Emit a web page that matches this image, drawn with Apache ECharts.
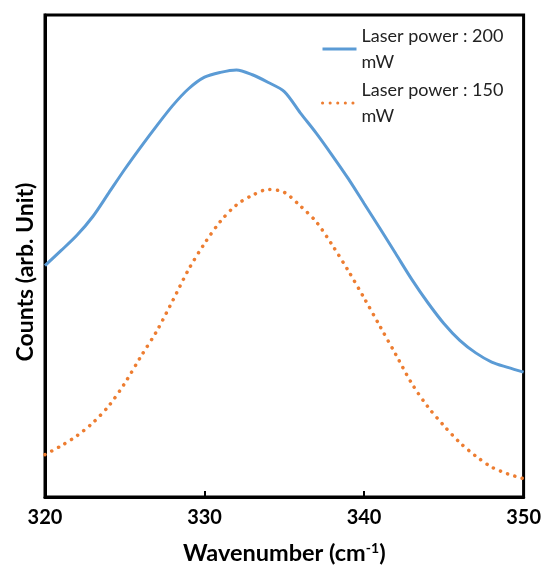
<!DOCTYPE html>
<html>
<head>
<meta charset="utf-8">
<script src="https://cdn.jsdelivr.net/npm/echarts@6/dist/echarts.min.js"></script>
<style>
  html, body { margin: 0; padding: 0; background: #fff; }
  #chart { width: 544px; height: 570px; }
</style>
</head>
<body>
<div id="chart"></div>
<script>
// ---- Data ----
const wavenumbers = [320,321,322,323,324,325,326,327,328,329,330,331,332,333,334,335,336,337,338,339,340,341,342,343,344,345,346,347,348,349,350];
const power200 = [48.0,51.1,54.3,58.2,63.1,68.0,72.6,77.0,81.2,84.7,87.1,88.1,88.6,87.6,86.0,84.1,79.7,75.5,70.9,66.1,60.9,55.7,50.4,45.1,40.3,36.0,32.5,29.9,28.0,26.9,25.9];
const power150 = [8.8,10.6,12.7,15.4,18.9,23.6,29.1,34.4,40.7,47.2,52.6,57.2,60.6,62.6,63.8,63.2,60.4,57.1,52.3,47.0,41.3,35.4,29.5,23.5,18.7,14.8,11.3,8.5,6.2,4.8,3.8];
const seriesNames = ['Laser power : 200\nmW', 'Laser power : 150\nmW'];
const xTicks = [320, 330, 340, 350];

const pairs = (xs, ys) => xs.map((x, i) => [x, ys[i]]);

const chart = echarts.init(document.getElementById('chart'), null, { renderer: 'canvas' });
const FONT = 'Lato';
chart.setOption({
  animation: false,
  backgroundColor: '#fff',
  grid: {
    left: 45, right: 19, top: 15, bottom: 68,
    show: true, borderColor: '#000', borderWidth: 3, backgroundColor: 'transparent'
  },
  legend: {
    left: 321, top: 27, orient: 'vertical', padding: 0,
    itemWidth: 34, itemHeight: 26, itemGap: 10,
    data: seriesNames,
    itemStyle: { opacity: 0 },
    lineStyle: { width: 3 },
    textStyle: { fontFamily: FONT, fontSize: 18, color: '#222', lineHeight: 26, padding: [0, 0, -26, 0] }
  },
  xAxis: {
    type: 'value', min: xTicks[0], max: xTicks[xTicks.length - 1], interval: 10,
    axisLine: { show: true, lineStyle: { color: '#000', width: 3 } },
    axisTick: { show: true, inside: true, length: 6, lineStyle: { color: '#000', width: 2 } },
    splitLine: { show: false },
    axisLabel: { margin: 11, fontFamily: FONT, fontWeight: 'bold', fontSize: 20, color: '#000' },
    name: '{t|Wavenumber (cm}{s|-1}{t|)}',
    nameLocation: 'middle', nameGap: 44,
    nameTextStyle: {
      rich: {
        t: { fontFamily: FONT, fontWeight: 'bold', fontSize: 23.5, color: '#000' },
        s: { fontFamily: FONT, fontWeight: 'bold', fontSize: 14, color: '#000', verticalAlign: 'top' }
      }
    }
  },
  yAxis: {
    type: 'value', min: 0, max: 100,
    axisLine: { show: true, lineStyle: { color: '#000', width: 3 } },
    axisTick: { show: false }, axisLabel: { show: false }, splitLine: { show: false },
    name: 'Counts (arb. Unit)', nameLocation: 'middle', nameGap: 8,
    nameTextStyle: { fontFamily: FONT, fontWeight: 'bold', fontSize: 23, color: '#000', padding: [0, 32, 0, 0] }
  },
  series: [
    {
      name: seriesNames[0], type: 'line', data: pairs(wavenumbers, power200),
      smooth: 0.3, showSymbol: false, symbol: 'none',
      lineStyle: { color: '#5B9BD5', width: 3 }, itemStyle: { color: '#5B9BD5' }
    },
    {
      name: seriesNames[1], type: 'line', data: pairs(wavenumbers, power150),
      smooth: 0.3, showSymbol: false, symbol: 'none',
      lineStyle: { color: '#ED7D31', width: 3.5, type: [0.1, 7.5], cap: 'round' }, itemStyle: { color: '#ED7D31' }
    }
  ]
});
</script>
</body>
</html>
